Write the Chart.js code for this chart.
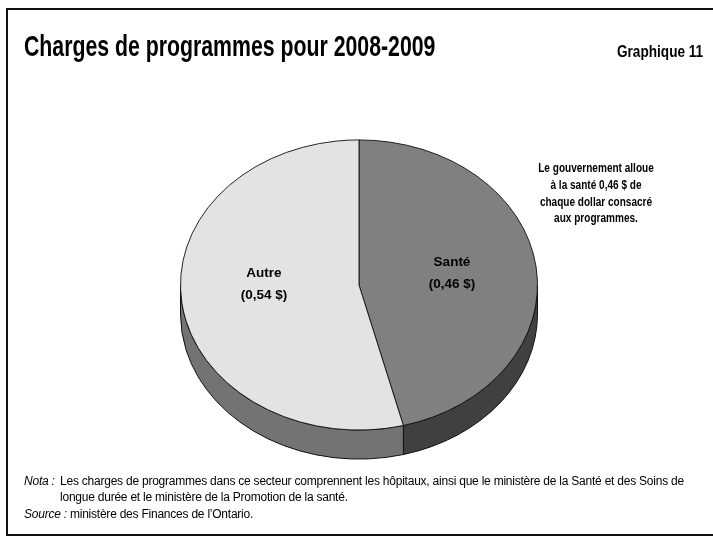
<!DOCTYPE html>
<html lang="fr"><head><meta charset="utf-8">
<script src="https://cdn.jsdelivr.net/npm/chart.js@4"></script>
<style>
html,body{margin:0;padding:0;background:#fff;overflow:hidden}
#wrap{position:relative;width:713px;height:536px;overflow:hidden}
#frame{position:absolute;left:6px;top:8px;width:720px;height:528px;border:2px solid #111;box-sizing:border-box}
canvas{position:absolute;left:0;top:0}
.t{position:absolute;color:#000;white-space:nowrap;margin:0}
#title{left:24px;top:29px;font:bold 30px/34px "Liberation Sans",sans-serif;transform:scaleX(.709);transform-origin:0 50%}
#num{left:617px;top:42px;font:bold 17px/20px "Liberation Sans",sans-serif;transform:scaleX(.8);transform-origin:0 50%}
#call{left:496px;top:160px;width:200px;text-align:center;font:bold 12px/16.8px "Liberation Sans",Arial,sans-serif;transform:scaleX(.837);transform-origin:50% 50%}
.n{font:12px/16px "Liberation Sans",Arial,sans-serif;letter-spacing:-.23px}
</style></head><body>
<div id="wrap">
<div id="frame"></div>
<canvas id="c" width="713" height="536"></canvas>
<div class="t" id="title">Charges de programmes pour 2008-2009</div>
<div class="t" id="num">Graphique 11</div>
<div class="t" id="call">Le gouvernement alloue<br>à la santé 0,46 $ de<br>chaque dollar consacré<br>aux programmes.</div>
<div class="t n" style="left:24px;top:473px"><i>Nota :</i></div>
<div class="t n" style="left:60px;top:473px">Les charges de programmes dans ce secteur comprennent les hôpitaux, ainsi que le ministère de la Santé et des Soins de</div>
<div class="t n" style="left:60px;top:489px">longue durée et le ministère de la Promotion de la santé.</div>
<div class="t n" style="left:24px;top:506px"><i>Source :</i> ministère des Finances de l’Ontario.</div>
</div>
<script>
const categories = ["Santé", "Autre"];
const values = [0.46, 0.54];
const valueLabels = ["(0,46 $)", "(0,54 $)"];
const topColors = ["#808080", "#e3e3e3"];
const sideColors = ["#404040", "#737373"];

const squash = 145.5 / 179, depth = 29;
const labelOffsets = [[93, -23], [-95, -12]];

const tiltPlugin = {
  id: "tilt",
  beforeDatasetsDraw(chart) {
    const ctx = chart.ctx, arcs = chart.getDatasetMeta(0).data;
    const cx = arcs[0].x, cy = arcs[0].y, r = arcs[0].outerRadius;
    ctx.save();
    arcs.forEach((a, i) => {
      const start = Math.max(a.startAngle, 0), end = Math.min(a.endAngle, Math.PI);
      if (end <= start) return;
      ctx.beginPath();
      ctx.ellipse(cx, cy + depth, r, r * squash, 0, start, end);
      ctx.ellipse(cx, cy, r, r * squash, 0, end, start, true);
      ctx.closePath();
      ctx.fillStyle = sideColors[i];
      ctx.fill();
      ctx.strokeStyle = "#111";
      ctx.lineWidth = 1;
      ctx.stroke();
    });
    ctx.restore();
    ctx.save();
    ctx.translate(cx, cy);
    ctx.scale(1, squash);
    ctx.translate(-cx, -cy);
  },
  afterDatasetsDraw(chart) {
    const ctx = chart.ctx, a0 = chart.getDatasetMeta(0).data[0];
    ctx.restore();
    ctx.save();
    ctx.fillStyle = "#000";
    ctx.font = 'bold 13.5px "Liberation Sans", Arial, sans-serif';
    ctx.textAlign = "center";
    ctx.textBaseline = "middle";
    categories.forEach((c, i) => {
      const x = a0.x + labelOffsets[i][0], y = a0.y + labelOffsets[i][1];
      ctx.fillText(c, x, y);
      ctx.fillText(valueLabels[i], x, y + 22);
    });
    ctx.restore();
  }
};

new Chart(document.getElementById("c"), {
  type: "pie",
  data: { labels: categories, datasets: [{
    data: values, backgroundColor: topColors,
    borderColor: "#111", borderWidth: 1
  }]},
  options: {
    responsive: false, animation: false,
    layout: { padding: { left: 180, right: 175, top: 106, bottom: 72 } },
    plugins: { legend: { display: false }, tooltip: { enabled: false }, title: { display: false } }
  },
  plugins: [tiltPlugin]
});
</script>
</body></html>
